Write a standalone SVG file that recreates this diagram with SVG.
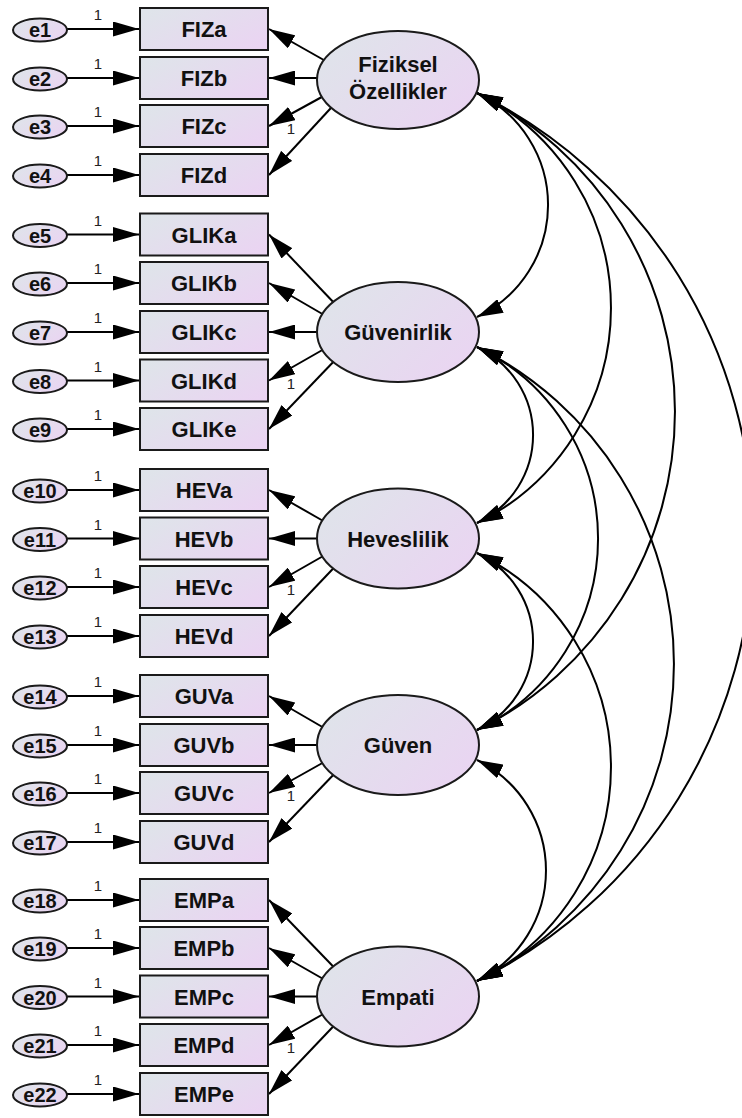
<svg xmlns="http://www.w3.org/2000/svg" width="742" height="1118" viewBox="0 0 742 1118">
<defs>
<linearGradient id="g" x1="0" y1="0.2" x2="1" y2="0.8">
<stop offset="0" stop-color="#dfe4ea"/>
<stop offset="1" stop-color="#ead4f2"/>
</linearGradient>
<marker id="ah" viewBox="0 0 26 15" refX="26" refY="7.5" markerWidth="26" markerHeight="15" markerUnits="userSpaceOnUse" orient="auto-start-reverse">
<path d="M0,0 L26,7.5 L0,15 z" fill="#000"/>
</marker>
<style>
.sh{fill:url(#g);stroke:#1a1a1a;stroke-width:2}
.t{font-family:"Liberation Sans",Arial,sans-serif;font-weight:bold;fill:#111;text-anchor:middle}
.bt{font-size:22px}
.et{font-size:20px}
.one{font-family:"Liberation Sans",Arial,sans-serif;font-size:15px;fill:#222;text-anchor:middle}
.p{stroke:#000;stroke-width:2;fill:none;marker-end:url(#ah)}
.c{stroke:#000;stroke-width:2;fill:none;marker-start:url(#ah);marker-end:url(#ah)}
</style>
</defs>
<rect width="742" height="1118" fill="#fff"/>

<g id="connectors">
<!-- error paths -->
<path class="p" d="M67,29 L139,29"/>
<path class="p" d="M67,78 L139,78"/>
<path class="p" d="M67,126 L139,126"/>
<path class="p" d="M67,175 L139,175"/>
<path class="p" d="M67,234.5 L139,234.5"/>
<path class="p" d="M67,283 L139,283"/>
<path class="p" d="M67,332 L139,332"/>
<path class="p" d="M67,380.5 L139,380.5"/>
<path class="p" d="M67,429 L139,429"/>
<path class="p" d="M67,490 L139,490"/>
<path class="p" d="M67,538.5 L139,538.5"/>
<path class="p" d="M67,587 L139,587"/>
<path class="p" d="M67,636 L139,636"/>
<path class="p" d="M67,696 L139,696"/>
<path class="p" d="M67,745 L139,745"/>
<path class="p" d="M67,793 L139,793"/>
<path class="p" d="M67,842 L139,842"/>
<path class="p" d="M67,900 L139,900"/>
<path class="p" d="M67,948 L139,948"/>
<path class="p" d="M67,996.5 L139,996.5"/>
<path class="p" d="M67,1045 L139,1045"/>
<path class="p" d="M67,1094 L139,1094"/>
<!-- loadings -->
<path class="p" d="M323.8,60 L269,29"/>
<path class="p" d="M317.1,78 L269,78"/>
<path class="p" d="M321.8,97 L269,126"/>
<path class="p" d="M330.9,108 L269,175"/>
<path class="p" d="M333.2,302 L269,234.5"/>
<path class="p" d="M322.4,314 L269,283"/>
<path class="p" d="M317,332 L269,332"/>
<path class="p" d="M322.4,350 L269,380.5"/>
<path class="p" d="M333.2,362 L269,429"/>
<path class="p" d="M322.4,520.5 L269,490"/>
<path class="p" d="M317,538.5 L269,538.5"/>
<path class="p" d="M322.4,556.5 L269,587"/>
<path class="p" d="M333.2,568.5 L269,636"/>
<path class="p" d="M322.4,727 L269,696"/>
<path class="p" d="M317,745 L269,745"/>
<path class="p" d="M322.4,763 L269,793"/>
<path class="p" d="M333.2,775 L269,842"/>
<path class="p" d="M333.2,966.5 L269,900"/>
<path class="p" d="M322.4,978.5 L269,948"/>
<path class="p" d="M317,996.5 L269,996.5"/>
<path class="p" d="M322.4,1014.5 L269,1045"/>
<path class="p" d="M333.2,1026.5 L269,1094"/>
<!-- covariances -->
<path class="c" d="M477,93 A123.8,123.8 0 0 1 477,317"/>
<path class="c" d="M477,93 A239.5,239.5 0 0 1 477,523"/>
<path class="c" d="M477,93 A355.2,355.2 0 0 1 477,730"/>
<path class="c" d="M477,93 A495.1,495.1 0 0 1 477,981"/>
<path class="c" d="M477,347 A97.1,97.1 0 0 1 477,523"/>
<path class="c" d="M477,347 A212,212 0 0 1 477,730"/>
<path class="c" d="M477,347 A353.6,353.6 0 0 1 477,981"/>
<path class="c" d="M477,553 A97.9,97.9 0 0 1 477,730"/>
<path class="c" d="M477,553 A237.9,237.9 0 0 1 477,981"/>
<path class="c" d="M477,760 A123,123 0 0 1 477,981"/>
<!-- labels 1 -->
<text class="one" x="98" y="20">1</text>
<text class="one" x="98" y="69">1</text>
<text class="one" x="98" y="117">1</text>
<text class="one" x="98" y="166">1</text>
<text class="one" x="98" y="225.5">1</text>
<text class="one" x="98" y="274">1</text>
<text class="one" x="98" y="323">1</text>
<text class="one" x="98" y="371.5">1</text>
<text class="one" x="98" y="420">1</text>
<text class="one" x="98" y="481">1</text>
<text class="one" x="98" y="529.5">1</text>
<text class="one" x="98" y="578">1</text>
<text class="one" x="98" y="627">1</text>
<text class="one" x="98" y="687">1</text>
<text class="one" x="98" y="736">1</text>
<text class="one" x="98" y="784">1</text>
<text class="one" x="98" y="833">1</text>
<text class="one" x="98" y="891">1</text>
<text class="one" x="98" y="939">1</text>
<text class="one" x="98" y="987.5">1</text>
<text class="one" x="98" y="1036">1</text>
<text class="one" x="98" y="1085">1</text>
<text class="one" x="291" y="134">1</text>
<text class="one" x="291" y="388.5">1</text>
<text class="one" x="291" y="595">1</text>
<text class="one" x="291" y="801">1</text>
<text class="one" x="291" y="1053">1</text>
</g>

<g id="e1"><ellipse class="sh" cx="40" cy="30" rx="27" ry="11.5"/><text class="t et" x="40" y="37">e1</text></g>
<g id="e2"><ellipse class="sh" cx="40" cy="79" rx="27" ry="11.5"/><text class="t et" x="40" y="86">e2</text></g>
<g id="e3"><ellipse class="sh" cx="40" cy="127" rx="27" ry="11.5"/><text class="t et" x="40" y="134">e3</text></g>
<g id="e4"><ellipse class="sh" cx="40" cy="176" rx="27" ry="11.5"/><text class="t et" x="40" y="183">e4</text></g>
<g id="e5"><ellipse class="sh" cx="40" cy="235.5" rx="27" ry="11.5"/><text class="t et" x="40" y="242.5">e5</text></g>
<g id="e6"><ellipse class="sh" cx="40" cy="284" rx="27" ry="11.5"/><text class="t et" x="40" y="291">e6</text></g>
<g id="e7"><ellipse class="sh" cx="40" cy="333" rx="27" ry="11.5"/><text class="t et" x="40" y="340">e7</text></g>
<g id="e8"><ellipse class="sh" cx="40" cy="381.5" rx="27" ry="11.5"/><text class="t et" x="40" y="388.5">e8</text></g>
<g id="e9"><ellipse class="sh" cx="40" cy="430" rx="27" ry="11.5"/><text class="t et" x="40" y="437">e9</text></g>
<g id="e10"><ellipse class="sh" cx="40" cy="491" rx="27" ry="11.5"/><text class="t et" x="40" y="498">e10</text></g>
<g id="e11"><ellipse class="sh" cx="40" cy="539.5" rx="27" ry="11.5"/><text class="t et" x="40" y="546.5">e11</text></g>
<g id="e12"><ellipse class="sh" cx="40" cy="588" rx="27" ry="11.5"/><text class="t et" x="40" y="595">e12</text></g>
<g id="e13"><ellipse class="sh" cx="40" cy="637" rx="27" ry="11.5"/><text class="t et" x="40" y="644">e13</text></g>
<g id="e14"><ellipse class="sh" cx="40" cy="697" rx="27" ry="11.5"/><text class="t et" x="40" y="704">e14</text></g>
<g id="e15"><ellipse class="sh" cx="40" cy="746" rx="27" ry="11.5"/><text class="t et" x="40" y="753">e15</text></g>
<g id="e16"><ellipse class="sh" cx="40" cy="794" rx="27" ry="11.5"/><text class="t et" x="40" y="801">e16</text></g>
<g id="e17"><ellipse class="sh" cx="40" cy="843" rx="27" ry="11.5"/><text class="t et" x="40" y="850">e17</text></g>
<g id="e18"><ellipse class="sh" cx="40" cy="901" rx="27" ry="11.5"/><text class="t et" x="40" y="908">e18</text></g>
<g id="e19"><ellipse class="sh" cx="40" cy="949" rx="27" ry="11.5"/><text class="t et" x="40" y="956">e19</text></g>
<g id="e20"><ellipse class="sh" cx="40" cy="997.5" rx="27" ry="11.5"/><text class="t et" x="40" y="1004.5">e20</text></g>
<g id="e21"><ellipse class="sh" cx="40" cy="1046" rx="27" ry="11.5"/><text class="t et" x="40" y="1053">e21</text></g>
<g id="e22"><ellipse class="sh" cx="40" cy="1095" rx="27" ry="11.5"/><text class="t et" x="40" y="1102">e22</text></g>

<g id="FIZa"><rect class="sh" x="140" y="8" width="128" height="42"/><text class="t bt" x="204" y="37">FIZa</text></g>
<g id="FIZb"><rect class="sh" x="140" y="57" width="128" height="42"/><text class="t bt" x="204" y="86">FIZb</text></g>
<g id="FIZc"><rect class="sh" x="140" y="105" width="128" height="42"/><text class="t bt" x="204" y="134">FIZc</text></g>
<g id="FIZd"><rect class="sh" x="140" y="154" width="128" height="42"/><text class="t bt" x="204" y="183">FIZd</text></g>
<g id="GLIKa"><rect class="sh" x="140" y="213.5" width="128" height="42"/><text class="t bt" x="204" y="242.5">GLIKa</text></g>
<g id="GLIKb"><rect class="sh" x="140" y="262" width="128" height="42"/><text class="t bt" x="204" y="291">GLIKb</text></g>
<g id="GLIKc"><rect class="sh" x="140" y="311" width="128" height="42"/><text class="t bt" x="204" y="340">GLIKc</text></g>
<g id="GLIKd"><rect class="sh" x="140" y="359.5" width="128" height="42"/><text class="t bt" x="204" y="388.5">GLIKd</text></g>
<g id="GLIKe"><rect class="sh" x="140" y="408" width="128" height="42"/><text class="t bt" x="204" y="437">GLIKe</text></g>
<g id="HEVa"><rect class="sh" x="140" y="469" width="128" height="42"/><text class="t bt" x="204" y="498">HEVa</text></g>
<g id="HEVb"><rect class="sh" x="140" y="517.5" width="128" height="42"/><text class="t bt" x="204" y="546.5">HEVb</text></g>
<g id="HEVc"><rect class="sh" x="140" y="566" width="128" height="42"/><text class="t bt" x="204" y="595">HEVc</text></g>
<g id="HEVd"><rect class="sh" x="140" y="615" width="128" height="42"/><text class="t bt" x="204" y="644">HEVd</text></g>
<g id="GUVa"><rect class="sh" x="140" y="675" width="128" height="42"/><text class="t bt" x="204" y="704">GUVa</text></g>
<g id="GUVb"><rect class="sh" x="140" y="724" width="128" height="42"/><text class="t bt" x="204" y="753">GUVb</text></g>
<g id="GUVc"><rect class="sh" x="140" y="772" width="128" height="42"/><text class="t bt" x="204" y="801">GUVc</text></g>
<g id="GUVd"><rect class="sh" x="140" y="821" width="128" height="42"/><text class="t bt" x="204" y="850">GUVd</text></g>
<g id="EMPa"><rect class="sh" x="140" y="879" width="128" height="42"/><text class="t bt" x="204" y="908">EMPa</text></g>
<g id="EMPb"><rect class="sh" x="140" y="927" width="128" height="42"/><text class="t bt" x="204" y="956">EMPb</text></g>
<g id="EMPc"><rect class="sh" x="140" y="975.5" width="128" height="42"/><text class="t bt" x="204" y="1004.5">EMPc</text></g>
<g id="EMPd"><rect class="sh" x="140" y="1024" width="128" height="42"/><text class="t bt" x="204" y="1053">EMPd</text></g>
<g id="EMPe"><rect class="sh" x="140" y="1073" width="128" height="42"/><text class="t bt" x="204" y="1102">EMPe</text></g>

<g id="Fiziksel"><ellipse class="sh" cx="398" cy="80" rx="81" ry="49"/><text class="t bt" x="398" y="72">Fiziksel</text><text class="t bt" x="398" y="98.5">Özellikler</text></g>
<g id="Guvenirlik"><ellipse class="sh" cx="398" cy="332" rx="81" ry="50"/><text class="t bt" x="398" y="340">Güvenirlik</text></g>
<g id="Heveslilik"><ellipse class="sh" cx="398" cy="538.5" rx="81" ry="50"/><text class="t bt" x="398" y="546.5">Heveslilik</text></g>
<g id="Guven"><ellipse class="sh" cx="398" cy="745" rx="81" ry="50"/><text class="t bt" x="398" y="753">Güven</text></g>
<g id="Empati"><ellipse class="sh" cx="398" cy="996.5" rx="81" ry="50"/><text class="t bt" x="398" y="1004.5">Empati</text></g>
</svg>
